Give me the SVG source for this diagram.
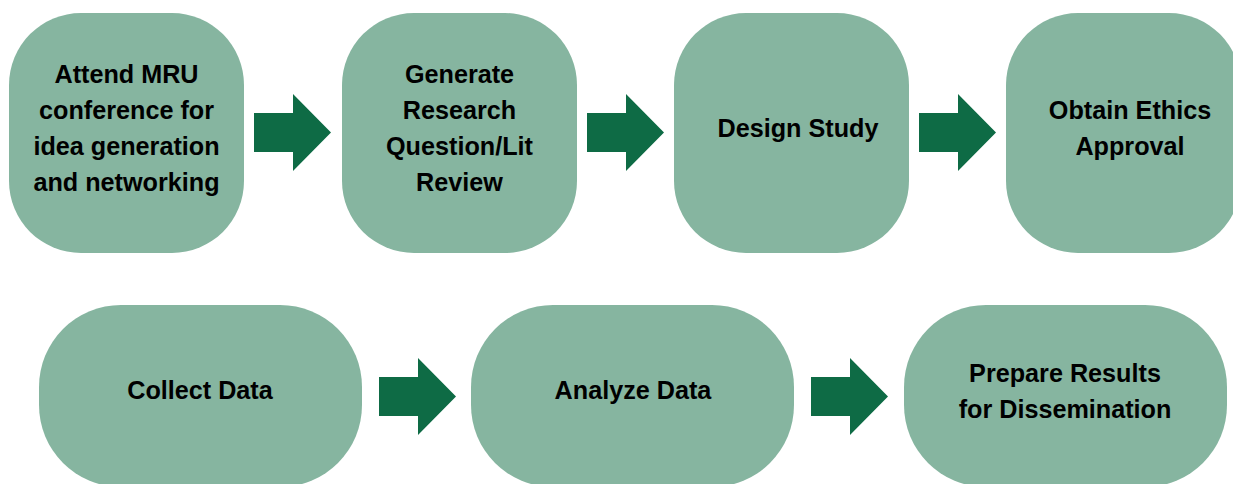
<svg xmlns="http://www.w3.org/2000/svg" width="1233" height="484" viewBox="0 0 1233 484">
<style>
.n{fill:#86b5a0}
.a{fill:#0e6b45}
text{font-family:"Liberation Sans",Arial,sans-serif;font-weight:bold;font-size:25.2px;fill:#000;text-anchor:middle}
</style>
<rect width="1233" height="484" fill="#fff"/>
<g id="connectors">
<polygon class="a" points="254,113 293,113 293,94 331,132.5 293,171 293,152 254,152"/>
<polygon class="a" points="587,113 626,113 626,94 664,132.5 626,171 626,152 587,152"/>
<polygon class="a" points="919,113 958,113 958,94 996,132.5 958,171 958,152 919,152"/>
<polygon class="a" points="379,377 418,377 418,358 456,396.5 418,435 418,416 379,416"/>
<polygon class="a" points="811,377 850,377 850,358 888,396.5 850,435 850,416 811,416"/>
</g>
<g id="n1"><rect class="n" x="9" y="13" width="235" height="240" rx="72"/>
<text x="126.5" y="83">Attend MRU</text><text x="126.5" y="119">conference for</text><text x="126.5" y="155">idea generation</text><text x="126.5" y="191">and networking</text></g>
<g id="n2"><rect class="n" x="342" y="13" width="235" height="240" rx="72"/>
<text x="459.5" y="83">Generate</text><text x="459.5" y="119">Research</text><text x="459.5" y="155">Question/Lit</text><text x="459.5" y="191">Review</text></g>
<g id="n3"><rect class="n" x="674" y="13" width="235" height="240" rx="72"/>
<text x="798" y="137">Design Study</text></g>
<g id="n4"><rect class="n" x="1006" y="13" width="235" height="240" rx="72"/>
<text x="1130" y="119">Obtain Ethics</text><text x="1130" y="155">Approval</text></g>
<g id="n5"><rect class="n" x="39" y="305" width="323" height="182" rx="82"/>
<text x="200" y="399">Collect Data</text></g>
<g id="n6"><rect class="n" x="471" y="305" width="323" height="182" rx="82"/>
<text x="633" y="399">Analyze Data</text></g>
<g id="n7"><rect class="n" x="904" y="305" width="323" height="182" rx="82"/>
<text x="1065" y="382">Prepare Results</text><text x="1065" y="418">for Dissemination</text></g>
</svg>
